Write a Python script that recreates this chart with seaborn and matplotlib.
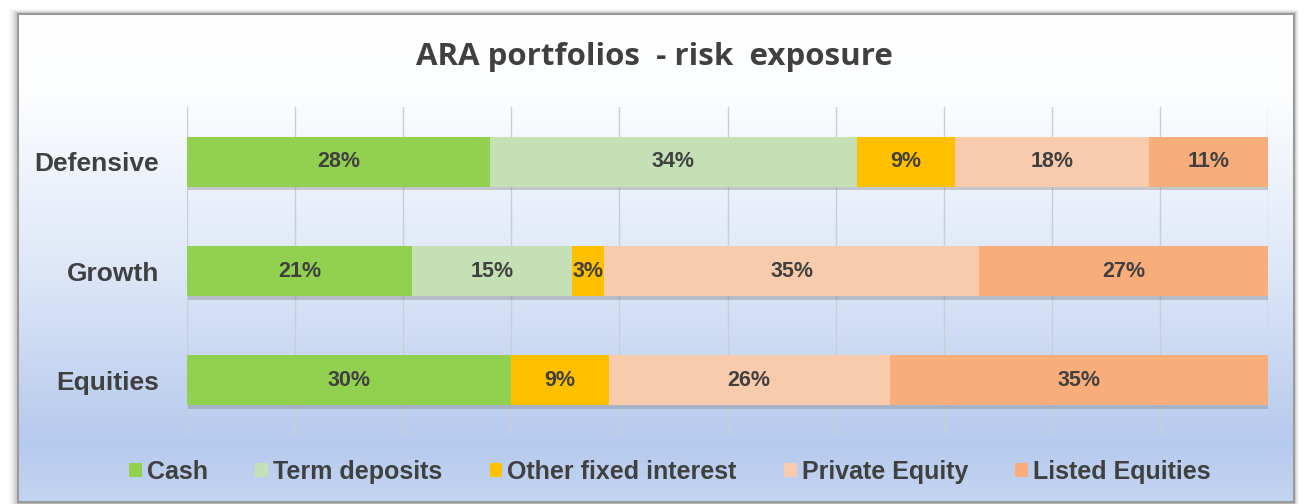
import numpy as np
import pandas as pd
import seaborn as sns
import matplotlib.pyplot as plt
import matplotlib.patheffects as pe
from matplotlib.colors import LinearSegmentedColormap
from matplotlib.patches import Rectangle

# data
portfolios = ['Defensive', 'Growth', 'Equities']
series = ['Cash', 'Term deposits', 'Other fixed interest', 'Private Equity', 'Listed Equities']
cash = [28, 21, 30]
term_deposits = [34, 15, 0]
other_fixed = [9, 3, 9]
private_equity = [18, 35, 26]
listed_equities = [11, 27, 35]
colors = ['#92d050', '#c5e0b4', '#ffc000', '#f8cbad', '#f9ad7a']

df = pd.DataFrame({'portfolio': portfolios, 'Cash': cash, 'Term deposits': term_deposits,
                   'Other fixed interest': other_fixed, 'Private Equity': private_equity,
                   'Listed Equities': listed_equities})

# 100% stacked -> share of each row total
total = df[series].sum(axis=1)
share = df[series].div(total, axis=0) * 100
cum = share.cumsum(axis=1)
cum['portfolio'] = df['portfolio']

sns.set_style('white')
plt.rcParams['font.family'] = ['Liberation Sans', 'DejaVu Sans']
text_col = '#404040'

fig = plt.figure(figsize=(13.05, 5.04), dpi=100)
fig.patch.set_facecolor('white')

# background frame with gradient + shadow
bg = fig.add_axes([0, 0, 1, 1], zorder=-1)
bg.set_xlim(0, 1305)
bg.set_ylim(504, 0)
bg.axis('off')
for i, a in enumerate([0.05, 0.08, 0.12, 0.18, 0.28]):
    off = 9 - i * 2
    bg.add_patch(Rectangle((18 - off, 14 - off * 0.6), 1276 + off * 1.6, 490 + off,
                           facecolor='#808080', edgecolor='none', alpha=a))
grad = LinearSegmentedColormap.from_list('bgc', [(0, '#ffffff'), (0.15, '#fdfeff'),
                                                 (0.5, '#e0e9f8'), (0.88, '#b6caed'),
                                                 (1, '#c4d5f1')])
bg.imshow(np.linspace(0, 1, 256)[:, None], cmap=grad, aspect='auto',
          extent=[18, 1294, 502, 14], zorder=2)
bg.add_patch(Rectangle((18, 14), 1276, 488, facecolor='none', edgecolor='#9a9a9a', lw=1.5, zorder=3))

ax = fig.add_axes([187 / 1305, 1 - 435 / 504, 1081 / 1305, 328 / 504])
ax.set_facecolor('none')

# stacked bars: draw cumulative totals from the last series back to the first
for i in reversed(range(len(series))):
    sns.barplot(data=cum, x=series[i], y='portfolio', orient='h', color=colors[i],
                saturation=1, width=0.46, ax=ax, zorder=3, linewidth=0)
    if i == len(series) - 1:
        for p in ax.patches:
            p.set_path_effects([pe.SimplePatchShadow(offset=(1, -2.5), shadow_rgbFace='#7a7a7a',
                                                     alpha=0.35), pe.Normal()])

# value labels
for r in range(len(portfolios)):
    left = 0
    for s in series:
        v = df.loc[r, s]
        w = share.loc[r, s]
        if v > 0:
            ax.text(left + w / 2, r, f'{v}%', ha='center', va='center', fontsize=15.5,
                    fontweight='bold', color=text_col, zorder=5)
        left += w

ax.set_xlim(0, 100)
ax.set_ylim(2.5, -0.5)
ax.set_xticks(range(0, 101, 10))
ax.set_xticklabels([])
ax.xaxis.grid(True, color='#c9cdd6', lw=1, zorder=0)
ax.set_axisbelow(True)
ax.tick_params(axis='both', length=0)
ax.tick_params(axis='y', pad=20)
for lab in ax.get_yticklabels():
    lab.set_fontsize(19)
    lab.set_fontweight('bold')
    lab.set_color(text_col)
ax.set_xlabel('')
ax.set_ylabel('')
sns.despine(ax=ax, left=True, bottom=True)

fig.text(654 / 1305, 1 - 57 / 504, 'ARA portfolios  - risk  exposure', ha='center', va='center',
         fontsize=22.5, fontweight='bold', color=text_col, family=['Open Sans', 'DejaVu Sans'])

handles = [Rectangle((0, 0), 1, 1, facecolor=c, edgecolor='none') for c in colors]
leg = fig.legend(handles, series, loc='center', bbox_to_anchor=(670 / 1305, 1 - 472 / 504),
                 ncol=5, frameon=False, handlelength=0.5, handleheight=0.5, handletextpad=0.2,
                 columnspacing=1.9, prop={'size': 18, 'weight': 'bold'})
for t in leg.get_texts():
    t.set_color(text_col)

fig.savefig('out.png', dpi=100)
